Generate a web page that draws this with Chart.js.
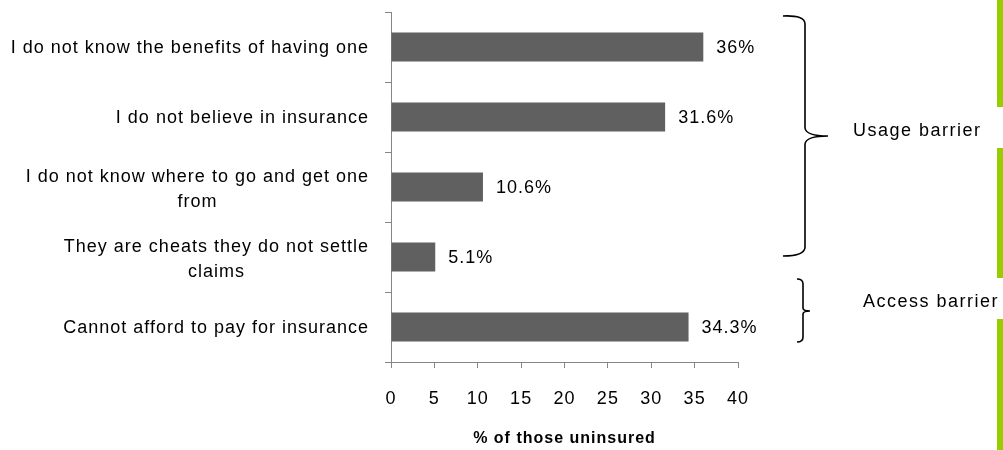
<!DOCTYPE html>
<html>
<head>
<meta charset="utf-8">
<script src="https://cdn.jsdelivr.net/npm/chart.js@4/dist/chart.umd.min.js"></script>
<style>
  html, body { margin: 0; padding: 0; background: #ffffff; }
  canvas { display: block; }
</style>
</head>
<body>
<canvas id="chart" width="1003" height="450"></canvas>
<script>
// Reasons given for not having insurance
const categories = [
  'I do not know the benefits of having one',
  'I do not believe in insurance',
  ['I do not know where to go and get one', 'from'],
  ['They are cheats they do not settle', 'claims'],
  'Cannot afford to pay for insurance'
];
const shares = [36, 31.6, 10.6, 5.1, 34.3];
const xTicks = [0, 5, 10, 15, 20, 25, 30, 35, 40];
const axisTitle = '% of those uninsured';
const groupNames = ['Usage barrier', 'Access barrier'];

const FONT = "'Liberation Sans', Arial, sans-serif";

// Loose letter spacing for all canvas text
const spacing = {
  id: 'spacing',
  beforeUpdate(chart) { chart.ctx.letterSpacing = '1px'; },
  beforeDraw(chart) { chart.ctx.letterSpacing = '1px'; }
};

// Category labels: block right-aligned next to the axis, lines centred within it
const categoryLabels = {
  id: 'categoryLabels',
  afterDraw(chart) {
    const ctx = chart.ctx;
    const yScale = chart.scales.y;
    const right = yScale.right - 22;
    const lineGap = 25;
    ctx.save();
    ctx.letterSpacing = '1px';
    ctx.font = '18px ' + FONT;
    ctx.fillStyle = '#000';
    ctx.textAlign = 'center';
    ctx.textBaseline = 'middle';
    categories.forEach((label, i) => {
      const lines = Array.isArray(label) ? label : [label];
      const widths = lines.map(l => ctx.measureText(l).width);
      const maxW = Math.max(...widths);
      const cx = right - maxW / 2;
      const yc = yScale.getPixelForTick(i) + (lines.length > 1 ? 3 : 1);
      const y0 = yc - (lines.length - 1) * lineGap / 2;
      lines.forEach((l, k) => ctx.fillText(l, cx, y0 + k * lineGap));
    });
    ctx.restore();
  }
};

// Value labels to the right of each bar
const valueLabels = {
  id: 'valueLabels',
  afterDatasetsDraw(chart) {
    const ctx = chart.ctx;
    const meta = chart.getDatasetMeta(0);
    ctx.save();
    ctx.letterSpacing = '1px';
    ctx.font = '18px ' + FONT;
    ctx.fillStyle = '#000';
    ctx.textAlign = 'left';
    ctx.textBaseline = 'middle';
    meta.data.forEach((bar, i) => {
      ctx.fillText(shares[i] + '%', bar.x + 13, bar.y + 1);
    });
    ctx.restore();
  }
};

// Group braces, their labels and the green side strip
const decorations = {
  id: 'decorations',
  afterDraw(chart) {
    const ctx = chart.ctx;
    ctx.save();
    ctx.strokeStyle = '#000';
    ctx.lineWidth = 1.6;

    // large brace
    ctx.beginPath();
    ctx.moveTo(783, 16);
    ctx.quadraticCurveTo(805, 15, 805, 24);
    ctx.lineTo(805, 128);
    ctx.quadraticCurveTo(806, 136, 828, 136);
    ctx.quadraticCurveTo(806, 136, 805, 144);
    ctx.lineTo(805, 247);
    ctx.quadraticCurveTo(805, 256, 783, 256);
    ctx.stroke();

    // small brace
    ctx.beginPath();
    ctx.moveTo(797, 279);
    ctx.quadraticCurveTo(803, 279, 803, 284);
    ctx.lineTo(803, 308);
    ctx.quadraticCurveTo(803, 311, 810, 311);
    ctx.quadraticCurveTo(803, 311, 803, 314);
    ctx.lineTo(803, 337);
    ctx.quadraticCurveTo(803, 342, 797, 342);
    ctx.stroke();

    ctx.letterSpacing = '1.5px';
    ctx.font = '18px ' + FONT;
    ctx.fillStyle = '#000';
    ctx.textAlign = 'left';
    ctx.textBaseline = 'middle';
    ctx.fillText(groupNames[0], 853, 131);
    ctx.fillText(groupNames[1], 863, 302);

    ctx.fillStyle = '#99cc00';
    ctx.fillRect(997, 0, 6, 107);
    ctx.fillRect(997, 148, 6, 130);
    ctx.fillRect(997, 319, 6, 131);
    ctx.restore();
  }
};

new Chart(document.getElementById('chart'), {
  type: 'bar',
  data: {
    labels: categories,
    datasets: [{
      data: shares,
      backgroundColor: '#606060',
      borderWidth: 0,
      barPercentage: 0.415,
      categoryPercentage: 1
    }]
  },
  options: {
    indexAxis: 'y',
    responsive: false,
    animation: false,
    devicePixelRatio: 1,
    layout: { padding: { left: 0, top: 12, right: 265, bottom: 0 } },
    plugins: {
      legend: { display: false },
      tooltip: { enabled: false }
    },
    scales: {
      x: {
        min: 0,
        max: 40,
        afterBuildTicks(scale) {
          scale.ticks = xTicks.map(v => ({ value: v }));
        },
        afterFit(scale) {
          scale.height = 88;
          scale.paddingLeft = 0;
          scale.paddingRight = 0;
        },
        grid: {
          drawOnChartArea: false,
          tickLength: 6,
          color: '#868686'
        },
        border: { color: '#868686', width: 1 },
        ticks: {
          color: '#000',
          font: { family: FONT, size: 18 },
          padding: 20,
          maxRotation: 0
        },
        title: {
          display: true,
          text: axisTitle,
          color: '#000',
          font: { family: FONT, size: 16, weight: 'bold' },
          padding: { top: 4, bottom: 2 }
        }
      },
      y: {
        afterFit(scale) {
          scale.width = 391;
          scale.paddingTop = 0;
          scale.paddingBottom = 0;
        },
        grid: {
          drawOnChartArea: false,
          offset: true,
          tickLength: 6,
          color: '#868686'
        },
        border: { color: '#868686', width: 1 },
        ticks: { display: false }
      }
    }
  },
  plugins: [spacing, categoryLabels, valueLabels, decorations]
});
</script>
</body>
</html>
